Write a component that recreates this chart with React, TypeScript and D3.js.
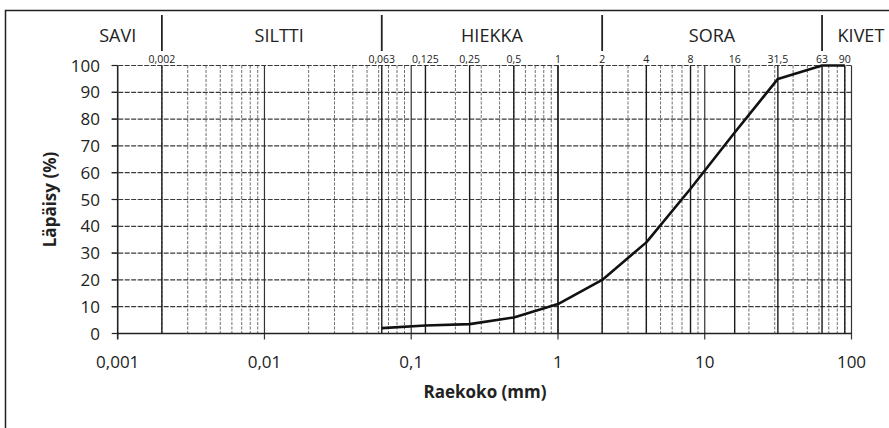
import React, { useEffect, useRef } from 'react';
import * as d3 from 'd3';

// grain size curve (mm -> % passing)
const sieveSizes = [0.063, 0.125, 0.25, 0.5, 1, 2, 4, 8, 16, 31.5, 63, 90];
const passing = [2, 3, 3.5, 6, 11, 20, 34, 54, 75, 95, 100, 100];

// marked sieve lines in the grid, with labels on top
const markedSizes = [0.002, 0.063, 0.125, 0.25, 0.5, 1, 2, 4, 8, 16, 31.5, 63, 90];
const markedLabels = ['0,002', '0,063', '0,125', '0,25', '0,5', '1', '2', '4', '8', '16', '31,5', '63', '90'];

// soil classes header
const classNames = ['SAVI', 'SILTTI', 'HIEKKA', 'SORA', 'KIVET'];
const classLabelAt = [0.001, 0.0126, 0.355, 11.2, 116];
const classBounds = [0.002, 0.063, 2, 63];

const xTicks = [0.001, 0.01, 0.1, 1, 10, 100];
const xTickLabels = ['0,001', '0,01', '0,1', '1', '10', '100'];
const yTicks = [0, 10, 20, 30, 40, 50, 60, 70, 80, 90, 100];

const W = 889;
const H = 428;
const FONT = '"Open Sans", sans-serif';

const App = () => {
  const ref = useRef(null);

  useEffect(() => {
    const svg = d3.select(ref.current);
    svg.selectAll('*').remove();

    const x = d3.scaleLog().domain([0.001, 100]).range([117.7, 851.5]);
    const y = d3.scaleLinear().domain([0, 100]).range([333.5, 65.5]);

    svg.append('rect').attr('width', W).attr('height', H).attr('fill', '#fff');

    // outer frame (runs off the right and bottom edges)
    svg.append('rect')
      .attr('x', 5.5).attr('y', 10.5)
      .attr('width', W + 20).attr('height', H + 20)
      .attr('fill', 'none').attr('stroke', '#222').attr('stroke-width', 1.5);

    // minor log grid
    const minors = [];
    for (let d = 0.001; d < 99; d *= 10) {
      for (let k = 2; k <= 9; k++) minors.push(+(d * k).toPrecision(3));
    }
    svg.append('g').selectAll('line').data(minors).join('line')
      .attr('x1', d => x(d)).attr('x2', d => x(d))
      .attr('y1', y(100)).attr('y2', y(0))
      .attr('stroke', '#6e6e6e').attr('stroke-width', 1)
      .attr('stroke-dasharray', '3 1.5');

    // horizontal grid
    svg.append('g').selectAll('line').data(yTicks.filter(v => v > 0)).join('line')
      .attr('x1', x(0.001) - 6).attr('x2', x(100))
      .attr('y1', d => y(d)).attr('y2', d => y(d))
      .attr('stroke', '#3a3a3a').attr('stroke-width', 1.2)
      .attr('stroke-dasharray', '5 1.5');

    // decade lines
    svg.append('g').selectAll('line').data(xTicks.slice(1)).join('line')
      .attr('x1', d => x(d)).attr('x2', d => x(d))
      .attr('y1', y(100)).attr('y2', y(0) + 6)
      .attr('stroke', '#333').attr('stroke-width', 1.2);

    // marked sieve lines
    svg.append('g').selectAll('line').data(markedSizes).join('line')
      .attr('x1', d => x(d)).attr('x2', d => x(d))
      .attr('y1', y(100)).attr('y2', y(0))
      .attr('stroke', '#1a1a1a').attr('stroke-width', 1.4);

    // axes
    svg.append('line')
      .attr('x1', x(0.001)).attr('x2', x(0.001))
      .attr('y1', y(100)).attr('y2', y(0) + 6)
      .attr('stroke', '#222').attr('stroke-width', 1.6);
    svg.append('line')
      .attr('x1', x(0.001)).attr('x2', x(100))
      .attr('y1', y(0)).attr('y2', y(0))
      .attr('stroke', '#222').attr('stroke-width', 1.4);

    // y ticks + labels
    svg.append('g').selectAll('line').data(yTicks).join('line')
      .attr('x1', x(0.001) - 6).attr('x2', x(0.001))
      .attr('y1', d => y(d)).attr('y2', d => y(d))
      .attr('stroke', '#222').attr('stroke-width', 1.2);
    svg.append('g').selectAll('text').data(yTicks).join('text')
      .attr('x', 100).attr('y', d => y(d))
      .attr('dy', '0.36em')
      .attr('text-anchor', 'end')
      .attr('font-family', FONT).attr('font-size', 17).attr('fill', '#222')
      .text(d => d);

    // x tick labels
    svg.append('g').selectAll('text').data(xTicks).join('text')
      .attr('x', d => x(d)).attr('y', 368)
      .attr('text-anchor', 'middle')
      .attr('font-family', FONT).attr('font-size', 17).attr('fill', '#222')
      .text((d, i) => xTickLabels[i]);

    // sieve labels above plot
    svg.append('g').selectAll('text').data(markedSizes).join('text')
      .attr('x', d => x(d)).attr('y', y(100) - 3)
      .attr('text-anchor', 'middle')
      .attr('font-family', FONT).attr('font-size', 10.5).attr('fill', '#222')
      .text((d, i) => markedLabels[i]);

    // header: class separators and names
    svg.append('g').selectAll('line').data(classBounds).join('line')
      .attr('x1', d => x(d)).attr('x2', d => x(d))
      .attr('y1', 15).attr('y2', 51)
      .attr('stroke', '#222').attr('stroke-width', 1.8);
    svg.append('g').selectAll('text').data(classNames).join('text')
      .attr('x', (d, i) => x(classLabelAt[i])).attr('y', 42)
      .attr('text-anchor', 'middle')
      .attr('font-family', FONT).attr('font-size', 18).attr('fill', '#222')
      .text(d => d);

    // curve
    const pts = sieveSizes.map((s, i) => [s, passing[i]]);
    const line = d3.line()
      .x(d => x(d[0]))
      .y(d => y(d[1]));
    svg.append('path')
      .datum(pts)
      .attr('fill', 'none')
      .attr('stroke', '#111')
      .attr('stroke-width', 2.6)
      .attr('stroke-linejoin', 'round')
      .attr('d', line);

    // axis titles
    svg.append('text')
      .attr('x', 485).attr('y', 398)
      .attr('text-anchor', 'middle')
      .attr('font-family', FONT).attr('font-size', 17).attr('font-weight', 'bold').attr('fill', '#222')
      .text('Raekoko (mm)');
    svg.append('text')
      .attr('transform', `translate(56,${(y(0) + y(100)) / 2}) rotate(-90)`)
      .attr('text-anchor', 'middle')
      .attr('font-family', FONT).attr('font-size', 17).attr('font-weight', 'bold').attr('fill', '#222')
      .text('Läpäisy (%)');
  }, []);

  return (
    <svg ref={ref} width={W} height={H}
      style={{ position: 'absolute', left: 0, top: 0, display: 'block' }} />
  );
};

export default App;
